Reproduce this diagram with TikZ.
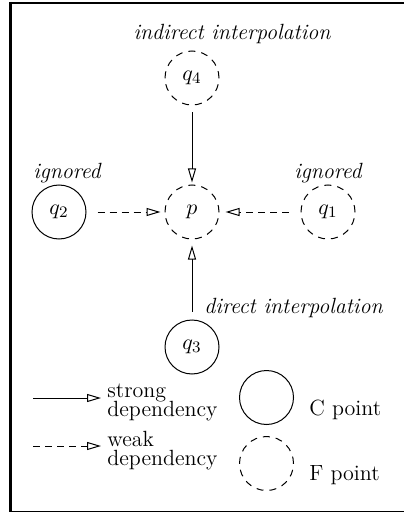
\documentclass[tikz,border=0pt]{standalone}
\usetikzlibrary{arrows.meta}
\begin{document}
\begin{tikzpicture}[x=0.5pt,y=-0.5pt,
  every node/.style={font=\fontsize{11}{13}\selectfont},
  cpt/.style={draw,circle,line width=0.5pt,minimum size=27pt,inner sep=0pt},
  fpt/.style={cpt,dash pattern=on 3.5pt off 3pt},
  lbl/.style={inner sep=0pt},
  strongdep/.style={line width=0.5pt,-{Triangle[open,length=7pt,width=4pt]}},
  weakdep/.style={strongdep,dash pattern=on 3.5pt off 2.5pt}]
\useasboundingbox (0,0) rectangle (404,513);
% frame
\draw[line width=1pt] (9,3) -- (404,3);
\draw[line width=1.5pt] (10.5,2) -- (10.5,512);
\draw[line width=0.5pt] (9,511.5) -- (404,511.5);
% points
\node[fpt] (q4) at (192,78) {$q_4$};
\node[fpt] (p) at (192,212) {$p$};
\node[cpt] (q2) at (59,212) {$q_2$};
\node[fpt] (q1) at (328,212) {$q_1$};
\node[cpt] (q3) at (192,347) {$q_3$};
% labels
\node[lbl,anchor=base] (lind) at (232,40) {\itshape indirect interpolation};
\node[lbl,anchor=base] (lign2) at (67,179) {\itshape ignored};
\node[lbl,anchor=base] (lign1) at (328,179) {\itshape ignored};
\node[lbl,anchor=base west] (ldir) at (204,313) {\itshape direct interpolation};
% connectors
\draw[strongdep,shorten <=3.5pt,shorten >=1pt] (q4) -- (p);
\draw[weakdep,shorten <=5.5pt,shorten >=2pt] (q2) -- (p);
\draw[weakdep,shorten <=6pt,shorten >=3pt] (q1) -- (p);
\draw[strongdep,shorten <=4pt,shorten >=3pt] (q3) -- (p);
% legend
\coordinate (s0) at (33,398);
\coordinate (s1) at (101,398);
\coordinate (w0) at (33,446);
\coordinate (w1) at (101,446);
\draw[strongdep] (s0) -- (s1);
\draw[weakdep] (w0) -- (w1);
\node[lbl,anchor=base west] (lstrong) at (107,416) {\vbox{\baselineskip=9.5pt\lineskiplimit=-20pt\hbox{strong}\hbox{dependency}}};
\node[lbl,anchor=base west] (lweak) at (107,465) {\vbox{\baselineskip=9.5pt\lineskiplimit=-20pt\hbox{weak}\hbox{dependency}}};
\node[cpt] (cpoint) at (266.5,397.5) {};
\node[fpt] (fpoint) at (266.5,463.5) {};
\node[lbl,anchor=base west] (lc) at (309,415) {C point};
\node[lbl,anchor=base west] (lf) at (309,480) {F point};
\end{tikzpicture}
\end{document}
